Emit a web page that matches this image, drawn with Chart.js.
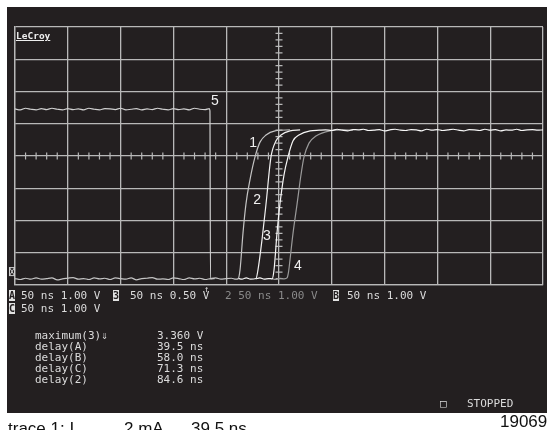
<!DOCTYPE html>
<html>
<head>
<meta charset="utf-8">
<script src="https://cdn.jsdelivr.net/npm/chart.js@4.4.0/dist/chart.umd.min.js"></script>
<style>
  body { margin:0; width:547px; height:430px; background:#fff; position:relative; overflow:hidden; font-family:"DejaVu Sans Mono", monospace; }
  #screen { position:absolute; left:7px; top:7px; width:540px; height:406px; background:#231f20; }
  #c { position:absolute; left:0; top:0; }
  .t { position:absolute; color:#dcdcdc; font-size:11px; line-height:11px; white-space:pre; }
  .inv { background:#e2e2e2; color:#231f20; font-weight:bold; font-size:10px; }
  .dim { color:#8a8a8a; }
  .cap { position:absolute; color:#111; font-family:"Liberation Sans", Arial, sans-serif; font-size:17px; line-height:17px; white-space:pre; }
</style>
</head>
<body>
<div id="screen"></div>
<canvas id="c" width="547" height="430"></canvas>
<script>
// time in ns (50 ns/div), voltage in V (1 V/div)
var trace1Time = [0,5,10,15,20,25,30,35,40,45,50,55,60,65,70,75,80,85,90,95,100,105,110,115,120,125,130,135,140,145,150,155,160,165,170,175,180,185,190,195,200,205,
  209,211.2,213.1,215.9,218.7,222.5,227.3,232,237.7,246.2,260.4];
var trace1Volt = [-3.80,-3.83,-3.79,-3.82,-3.78,-3.82,-3.80,-3.78,-3.84,-3.81,-3.79,-3.77,-3.82,-3.80,-3.83,-3.78,-3.81,-3.79,-3.83,-3.78,
  -3.80,-3.82,-3.78,-3.84,-3.80,-3.79,-3.77,-3.82,-3.81,-3.83,-3.78,-3.80,-3.83,-3.78,-3.81,-3.79,-3.83,-3.80,-3.78,-3.82,-3.80,-3.79,
  -3.82,-3.81,-3.53,-2.39,-1.49,-0.74,-0.03,0.43,0.65,0.78,0.81];

var trace2Time = [211,215,219,223,228.2,230.1,233.9,237.7,242.4,247.2,251.9,260.4,270];
var trace2Volt = [-3.79,-3.82,-3.78,-3.82,-3.80,-3.53,-2.60,-1.49,-0.03,0.47,0.65,0.78,0.81];

var trace3Time = [228,232,236,240,243.4,245.3,248.1,250.9,254.7,258.5,263.3,268.9,279.4,288,
  294,300,305,310,315,320,325,330,335,340,345,350,355,360,365,370,375,380,385,390,395,400,405,410,415,420,425,430,435,440,445,450,455,460,465,470,475,480,485,490,495,500];
var trace3Volt = [-3.81,-3.78,-3.82,-3.80,-3.81,-3.53,-2.39,-1.49,-0.59,-0.03,0.47,0.65,0.78,0.80,
  0.81,0.79,0.83,0.80,0.78,0.82,0.81,0.83,0.79,0.80,0.82,0.78,0.81,0.83,0.80,0.79,0.82,0.81,0.78,0.83,
  0.80,0.82,0.79,0.81,0.83,0.80,0.78,0.82,0.81,0.79,0.83,0.80,0.82,0.78,0.81,0.80,0.83,0.79,0.81,0.82,0.80,0.81];

var trace4Time = [243,247,251,255,257.6,259,260.4,263.3,267.1,270.8,273.7,278.4,285,298.3,312.5,320];
var trace4Volt = [-3.80,-3.83,-3.79,-3.81,-3.78,-3.60,-3.22,-2.39,-1.49,-0.59,-0.03,0.40,0.62,0.78,0.81,0.80];

var trace5Time = [0,5,10,15,20,25,30,35,40,45,50,55,60,65,70,75,80,85,90,95,100,105,110,115,120,125,130,135,140,145,150,155,160,165,170,175,180,
  184,184.6,185.1,189];
var trace5Volt = [1.46,1.43,1.48,1.45,1.43,1.47,1.44,1.48,1.45,1.43,1.47,1.44,1.46,1.43,1.48,1.45,1.43,1.47,1.46,1.44,
  1.48,1.43,1.45,1.47,1.43,1.46,1.44,1.48,1.45,1.43,1.47,1.44,1.46,1.43,1.48,1.45,1.44,
  1.47,1.40,-3.81,-3.80];

var traceColors = ['#c4c4c4', '#f2f2f2', '#f7f7f7', '#9a9a9a', '#cfcfcf'];
var traceLabels = ['1', '2', '3', '4', '5'];
var labelTime = [225.4, 229.2, 238.6, 268, 189.4];
var labelVolt = [0.40, -1.36, -2.48, -3.41, 1.71];

var measureNames = ['maximum(3)\u21d3', 'delay(A)', 'delay(B)', 'delay(C)', 'delay(2)'];
var measureValues = ['3.360 V', '39.5 ns', '58.0 ns', '71.3 ns', '84.6 ns'];

var allTimes = [trace1Time, trace2Time, trace3Time, trace4Time, trace5Time];
var allVolts = [trace1Volt, trace2Volt, trace3Volt, trace4Volt, trace5Volt];

function pts(ts, vs) {
    return ts.map(function (t, i) { return { x: t, y: vs[i] }; });
}

var datasets = [];
for (var i = 0; i < allTimes.length; i++) {
    datasets.push({
        label: 'trace ' + traceLabels[i],
        data: pts(allTimes[i], allVolts[i]),
        borderColor: traceColors[i],
        borderWidth: 1.2,
        pointRadius: 0,
        cubicInterpolationMode: 'monotone',
        fill: false
    });
}

var gridColor = '#b8b8b8';

// center cross with minor ticks, ground marker, trace number labels
var scopeMarks = {
    id: 'scopeMarks',
    beforeDatasetsDraw: function (chart) {
        var ctx = chart.ctx, xs = chart.scales.x, ys = chart.scales.y;
        var cx = xs.getPixelForValue(250), cy = ys.getPixelForValue(0);
        ctx.save();
        ctx.strokeStyle = gridColor;
        ctx.lineWidth = 1.2;
        ctx.beginPath();
        for (var t = 0; t <= 500; t += 10) {
            if (t % 50 === 0) continue;
            var px = xs.getPixelForValue(t);
            ctx.moveTo(px, cy - 3.5);
            ctx.lineTo(px, cy + 3.5);
        }
        for (var k = -20; k <= 20; k++) {
            if (k % 5 === 0) continue;
            var py = ys.getPixelForValue(k * 0.2);
            ctx.moveTo(cx - 3.5, py);
            ctx.lineTo(cx + 3.5, py);
        }
        ctx.stroke();
        // ground level marker on the left edge
        var gy = ys.getPixelForValue(-3.6);
        ctx.strokeStyle = '#d0d0d0';
        ctx.lineWidth = 1;
        ctx.strokeRect(xs.left - 5.5, gy - 4.5, 5, 8);
        ctx.beginPath();
        ctx.moveTo(xs.left - 5.5, gy - 4.5); ctx.lineTo(xs.left - 0.5, gy + 3.5);
        ctx.moveTo(xs.left - 0.5, gy - 4.5); ctx.lineTo(xs.left - 5.5, gy + 3.5);
        ctx.stroke();
        ctx.restore();
    },
    afterDatasetsDraw: function (chart) {
        var ctx = chart.ctx, xs = chart.scales.x, ys = chart.scales.y;
        ctx.save();
        ctx.fillStyle = '#f0f0f0';
        ctx.font = '14px "Liberation Sans", Arial, sans-serif';
        ctx.textAlign = 'center';
        ctx.textBaseline = 'middle';
        for (var i = 0; i < traceLabels.length; i++) {
            ctx.fillText(traceLabels[i], xs.getPixelForValue(labelTime[i]), ys.getPixelForValue(labelVolt[i]));
        }
        ctx.restore();
    }
};

new Chart(document.getElementById('c'), {
    type: 'line',
    data: { datasets: datasets },
    options: {
        responsive: false,
        animation: false,
        layout: { padding: { left: 15, top: 27, right: 4, bottom: 145 } },
        plugins: { legend: { display: false }, tooltip: { enabled: false } },
        scales: {
            x: {
                type: 'linear', min: 0, max: 500,
                ticks: { display: false, stepSize: 50 },
                grid: { color: gridColor, lineWidth: 1.3, drawTicks: false },
                border: { color: gridColor, width: 1.3 }
            },
            y: {
                type: 'linear', min: -4, max: 4,
                ticks: { display: false, stepSize: 1 },
                grid: { color: gridColor, lineWidth: 1.3, drawTicks: false },
                border: { color: gridColor, width: 1.3 }
            }
        }
    },
    plugins: [scopeMarks]
});

// screen text
function put(html, x, y, cls) {
    var d = document.createElement('div');
    d.className = cls || 't';
    d.style.left = x + 'px';
    d.style.top = y + 'px';
    d.innerHTML = html;
    document.body.appendChild(d);
    return d;
}

var logo = put('LeCroy', 16, 30);
logo.style.fontSize = '9.5px';
logo.style.fontWeight = 'bold';
logo.style.textDecoration = 'underline';
logo.style.color = '#eee';

put('<span class="inv">A</span>', 9, 290);
put('50 ns 1.00 V', 21, 290);
put('<span class="inv">3</span>', 113, 290);
put('50 ns 0.50 V', 130, 290);
put('\u2191', 204, 284).style.fontSize = '9px';
put('<span class="dim">2 50 ns 1.00 V</span>', 225, 290);
put('<span class="inv">B</span>', 333, 290);
put('50 ns 1.00 V', 347, 290);
put('<span class="inv">C</span>', 9, 303);
put('50 ns 1.00 V', 21, 303);

for (var m = 0; m < measureNames.length; m++) {
    put(measureNames[m], 35, 330 + m * 11);
    put(measureValues[m], 157, 330 + m * 11);
}

put('\u25a1', 440, 398);
put('STOPPED', 467, 398);

put('trace 1: I', 8, 420, 'cap');
put('2 mA', 124, 420, 'cap');
put('39.5 ns', 191, 420, 'cap');
put('19069', 500, 413, 'cap');
</script>
</body>
</html>
